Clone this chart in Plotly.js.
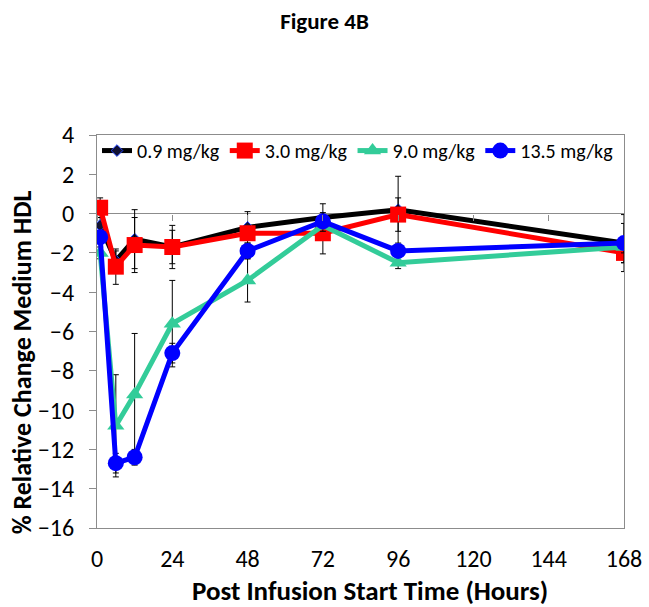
<!DOCTYPE html>
<html>
<head>
<meta charset="utf-8">
<script src="https://cdn.plot.ly/plotly-3.0.1.min.js"></script>
<style>html,body{margin:0;padding:0;background:#fff;}#chart{width:649px;height:607px;}</style>
</head>
<body>
<div id="chart"></div>
<script>
// Time points (hours)
const hours = [1, 6, 12, 24, 48, 72, 96, 168];
const seriesNames = ["0.9 mg/kg", "3.0 mg/kg", "9.0 mg/kg", "13.5 mg/kg"];
// % relative change medium HDL
const dose09 = [-0.6, -2.4, -1.3, -1.7, -0.7, -0.2, 0.2, -1.5];
const dose30 = [0.3, -2.7, -1.6, -1.7, -1.0, -1.0, -0.05, -2.0];
const dose90 = [-2.0, -10.8, -9.2, -5.6, -3.4, -0.6, -2.5, -1.7];
const dose135 = [-1.2, -12.7, -12.4, -7.1, -1.9, -0.4, -1.9, -1.5];
// error bars
const err09 = [0.4, 0.5, 1.5, 0.85, 0.8, 0.7, 1.7, 1.45];
const err30 = [0.5, 0.9, 1.4, 1.1, 0.3, 1.05, 0.85, 0.5];
const err90 = [0.3, 2.6, 3.1, 2.2, 1.1, 0.3, 0.3, 0.3];
const err135 = [0.3, 0.5, 0.4, 0.5, 0.4, 0.3, 0.3, 1.0];
const xTicks = [0, 24, 48, 72, 96, 120, 144, 168];
const yTicks = [-16, -14, -12, -10, -8, -6, -4, -2, 0, 2, 4];
const xTitle = 'Post Infusion Start Time (Hours)';
const yTitle = '% Relative Change Medium HDL';

const FONT = "Carlito, Lato, 'Liberation Sans', sans-serif";
function eb(arr){ return {type:'data', array:arr, visible:true, color:'#000', thickness:1, width:3}; }

const traces = [
  {x:hours, y:dose09, name:seriesNames[0], mode:'lines+markers',
   line:{color:'#000000', width:5}, marker:{symbol:'diamond', size:9, color:'#111133', line:{color:'#2244ff', width:1}},
   error_y:eb(err09)},
  {x:hours, y:dose30, name:seriesNames[1], mode:'lines+markers',
   line:{color:'#ff0000', width:5}, marker:{symbol:'square', size:16, color:'#ff0000'},
   error_y:eb(err30)},
  {x:hours, y:dose90, name:seriesNames[2], mode:'lines+markers',
   line:{color:'#33cc99', width:5}, marker:{symbol:'triangle-up', size:15, color:'#33cc99'},
   error_y:eb(err90)},
  {x:hours, y:dose135, name:seriesNames[3], mode:'lines+markers',
   line:{color:'#0000ff', width:5}, marker:{symbol:'circle', size:16, color:'#0000ff'},
   error_y:eb(err135)},
  // invisible trace to carry x-axis tick marks at y=0
  {x:[0,168], y:[0,0], xaxis:'x2', yaxis:'y', mode:'lines', line:{color:'rgba(0,0,0,0)'}, showlegend:false, hoverinfo:'skip'}
];

const layout = {
  width:649, height:607,
  paper_bgcolor:'#fff', plot_bgcolor:'#fff',
  margin:{l:97, r:25, t:135, b:79, autoexpand:false},
  font:{family:FONT, color:'#000'},
  title:{text:'<b>Figure 4B</b>', font:{size:23, family:FONT, color:'#000'}, x:0.5, xref:'container', xanchor:'center', y:0.965, yref:'container', yanchor:'middle'},
  showlegend:true,
  legend:{orientation:'h', x:0, y:1.01, xanchor:'left', yanchor:'top', font:{size:20, family:FONT},
          bgcolor:'rgba(0,0,0,0)', itemwidth:30, traceorder:'normal'},
  xaxis:{range:[0,168], tickvals:xTicks, ticktext:xTicks.map(String), showgrid:false, zeroline:false,
         showline:true, linecolor:'#8c8c8c', linewidth:1, mirror:true, ticks:'', ticklabelstandoff:9,
         tickfont:{size:24, family:FONT}},
  xaxis2:{range:[0,168], overlaying:'x', anchor:'free', position:0.8, side:'bottom', tickvals:xTicks,
          showticklabels:false, ticks:'outside', ticklen:6, tickcolor:'#8c8c8c', showline:false, showgrid:false, zeroline:false},
  yaxis:{range:[-16,4], tickvals:yTicks, showgrid:false, zeroline:true, zerolinecolor:'#8c8c8c', zerolinewidth:1,
         showline:true, linecolor:'#8c8c8c', linewidth:1, mirror:true, ticks:'outside', ticklen:7, tickcolor:'#8c8c8c',
         ticklabelstandoff:10, tickfont:{size:24, family:FONT}},
  annotations:[
    {text:'<b>'+xTitle+'</b>', xref:'paper', yref:'paper', x:0.518, y:-0.158, xanchor:'center', yanchor:'middle',
     showarrow:false, font:{size:27, family:FONT, color:'#000'}},
    {text:'<b>'+yTitle+'</b>', xref:'paper', yref:'paper', x:-0.142, y:0.422, xanchor:'center', yanchor:'middle',
     textangle:-90, showarrow:false, font:{size:26, family:FONT, color:'#000'}}
  ]
};

Plotly.newPlot('chart', traces, layout, {displayModeBar:false, staticPlot:true});
</script>
</body>
</html>
